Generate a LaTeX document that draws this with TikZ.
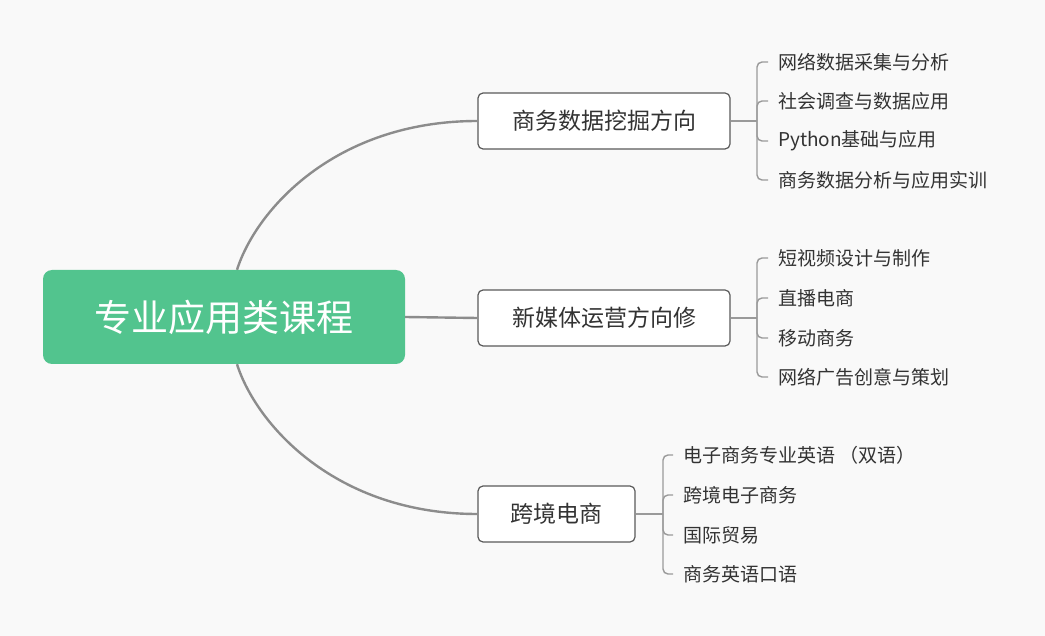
\documentclass[tikz,border=0pt]{standalone}
\usepackage{fontspec}
\setmainfont{Noto Sans CJK SC}
\definecolor{bggray}{HTML}{F9F9F9}
\definecolor{rootgreen}{HTML}{52C48E}
\definecolor{trunkgray}{HTML}{8C8C8C}
\definecolor{twiggray}{HTML}{9A9A9A}
\definecolor{boxline}{HTML}{5A5A5A}
\definecolor{txtgray}{HTML}{333333}

\begin{document}
\begin{tikzpicture}[x=1pt,y=-1pt,
    root/.style={fill=rootgreen, rounded corners=9pt, text=white, minimum width=362pt, minimum height=94pt, inner sep=0pt, font=\fontsize{37}{40}\selectfont},
    topic/.style={draw=boxline, line width=1.2pt, fill=white, rounded corners=5pt, minimum height=56pt, inner sep=0pt, text=txtgray, font=\fontsize{23}{26}\selectfont},
    leaf/.style={anchor=west, inner xsep=10pt, inner ysep=0pt, text=txtgray, font=\fontsize{19}{22}\selectfont},
    trunk/.style={draw=trunkgray, line width=2.4pt},
    twig/.style={draw=twiggray, line width=1.4pt, rounded corners=5pt}]
  \fill[bggray] (0,0) rectangle (1045,636);

  \node[root] (course) at (224,317) {专业应用类课程};
  \node[topic, minimum width=252pt] (mining) at (604,121) {商务数据挖掘方向};
  \node[topic, minimum width=252pt] (media) at (604,318) {新媒体运营方向修};
  \node[topic, minimum width=157pt] (cross) at (556.5,514) {跨境电商};

  \coordinate (top) at ([xshift=13pt]course.north);
  \coordinate (bot) at ([xshift=13pt]course.south);
  \draw[trunk] (top) .. controls (256,210) and (335,121) .. (mining.west);
  \draw[trunk] (course.east) -- (media.west);
  \draw[trunk] (bot) .. controls (256,424) and (335,514) .. (cross.west);

  \node[leaf] (m1) at (768,62) {网络数据采集与分析};
  \node[leaf] (m2) at (768,101) {社会调查与数据应用};
  \node[leaf] (m3) at (768,141) {Python基础与应用};
  \node[leaf] (m4) at (768,180) {商务数据分析与应用实训};

  \node[leaf] (n1) at (768,258) {短视频设计与制作};
  \node[leaf] (n2) at (768,298) {直播电商};
  \node[leaf] (n3) at (768,338) {移动商务};
  \node[leaf] (n4) at (768,377) {网络广告创意与策划};

  \node[leaf] (c1) at (673,455) {电子商务专业英语 （双语）};
  \node[leaf] (c2) at (673,495) {跨境电子商务};
  \node[leaf] (c3) at (673,535) {国际贸易};
  \node[leaf] (c4) at (673,574) {商务英语口语};

  \coordinate (jm) at (757,121);
  \coordinate (jn) at (757,318);
  \coordinate (jc) at (663,514);
  \draw[twig] (mining.east) -- (jm);
  \draw[twig] (media.east) -- (jn);
  \draw[twig] (cross.east) -- (jc);
  \foreach \i in {1,...,4} {
    \draw[twig] (jm) |- (m\i.west);
    \draw[twig] (jn) |- (n\i.west);
    \draw[twig] (jc) |- (c\i.west);
  }
\end{tikzpicture}
\end{document}
